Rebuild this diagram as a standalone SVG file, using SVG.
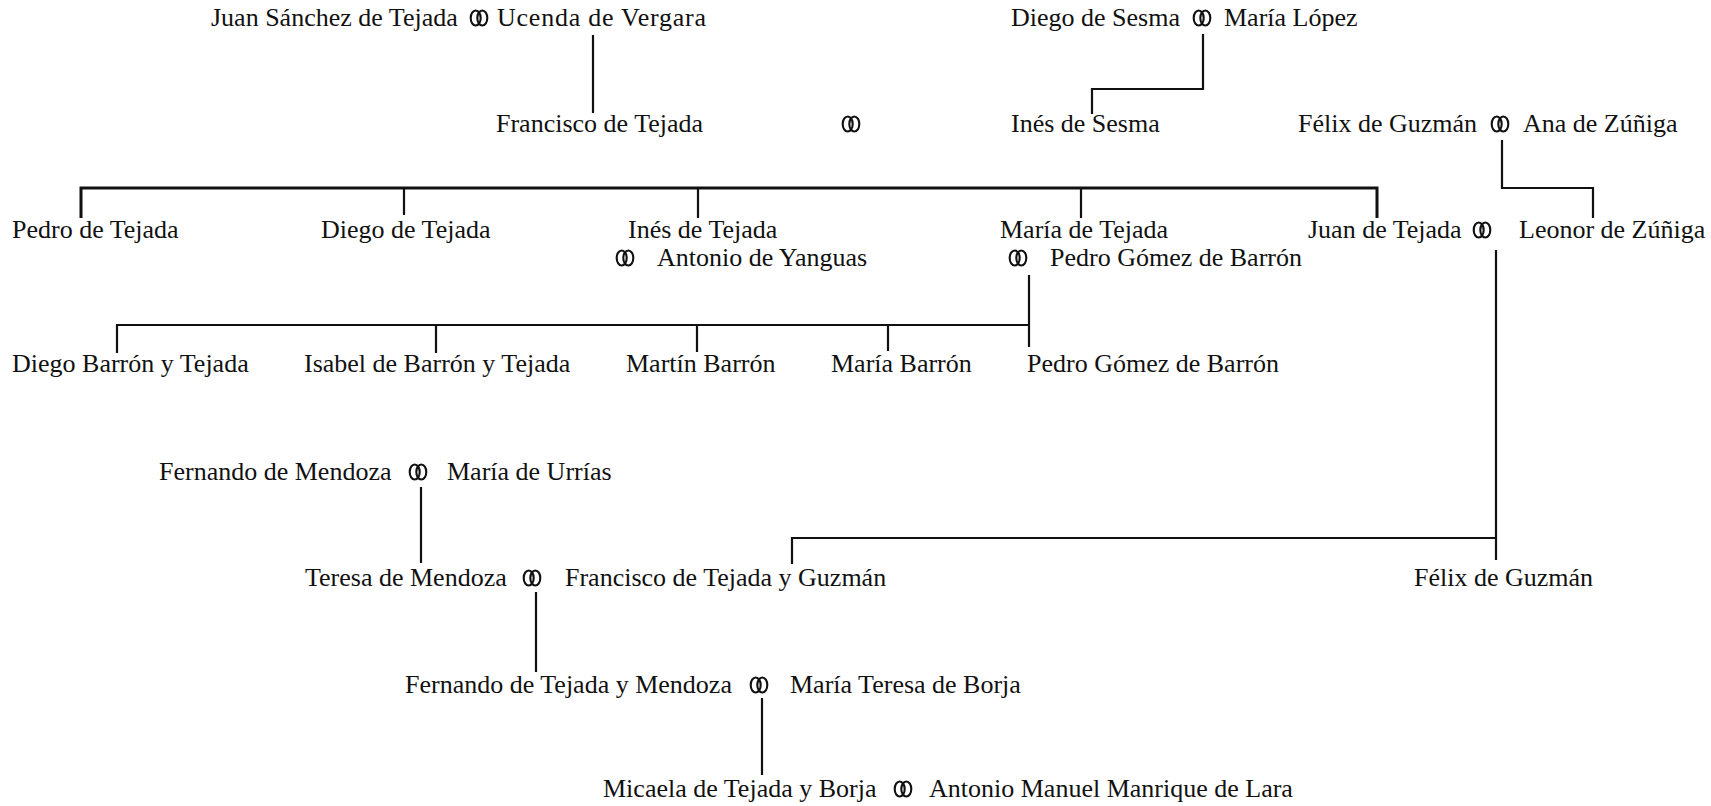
<svg xmlns="http://www.w3.org/2000/svg" width="1711" height="806" viewBox="0 0 1711 806">
<style>
text{font-family:"Liberation Serif","Times New Roman",serif;font-size:26px;fill:#111}
.c{fill:none;stroke:#111;stroke-width:2.2}
.bar{stroke-width:3}
.m ellipse{fill:none;stroke:#111;stroke-width:2.1}
</style>
<defs>
<g id="mar" class="m"><ellipse cx="-3.3" cy="0" rx="5" ry="7.5"/><ellipse cx="3.3" cy="0" rx="5" ry="7.5"/></g>
</defs>
<rect width="1711" height="806" fill="#fff"/>
<g id="connectors">
<path class="c" d="M593,35 V113"/>
<path class="c" d="M1203,34 V89 H1092 V114"/>
<path class="c" d="M1502,140 V188 H1593 V218"/>
<path class="c bar" d="M81,218 V188 H1377 V218"/>
<path class="c" d="M404,188 V215 M698,188 V218 M1081,188 V218"/>
<path class="c" d="M1029,275 V347"/>
<path class="c" d="M117,353 V325 H1029"/>
<path class="c" d="M436,325 V353 M697,325 V352 M888,325 V351"/>
<path class="c" d="M1496,250 V560"/>
<path class="c" d="M1496,538 H792 V564"/>
<path class="c" d="M421,487 V563"/>
<path class="c" d="M536,592 V672"/>
<path class="c" d="M762,698 V775"/>
</g>
<g id="n-juan-sanchez"><text x="211" y="26">Juan Sánchez de Tejada</text><use href="#mar" x="479" y="18"/><text x="497" y="26" textLength="209">Ucenda de Vergara</text></g>
<g id="n-diego-sesma"><text x="1011" y="26">Diego de Sesma</text><use href="#mar" x="1202" y="18"/><text x="1224" y="26">María López</text></g>
<g id="n-francisco"><text x="496" y="132">Francisco de Tejada</text><use href="#mar" x="851" y="124"/><text x="1011" y="132">Inés de Sesma</text></g>
<g id="n-felix-ana"><text x="1298" y="132">Félix de Guzmán</text><use href="#mar" x="1500" y="124"/><text x="1523" y="132">Ana de Zúñiga</text></g>
<g id="n-pedro"><text x="12" y="238">Pedro de Tejada</text></g>
<g id="n-diego"><text x="321" y="238">Diego de Tejada</text></g>
<g id="n-ines"><text x="628" y="238">Inés de Tejada</text><use href="#mar" x="625" y="258"/><text x="657" y="266">Antonio de Yanguas</text></g>
<g id="n-maria"><text x="1000" y="238">María de Tejada</text><use href="#mar" x="1018" y="258"/><text x="1050" y="266">Pedro Gómez de Barrón</text></g>
<g id="n-juan"><text x="1308" y="238">Juan de Tejada</text><use href="#mar" x="1482" y="230"/><text x="1519" y="238">Leonor de Zúñiga</text></g>
<g id="n-diego-barron"><text x="12" y="372">Diego Barrón y Tejada</text></g>
<g id="n-isabel"><text x="304" y="372">Isabel de Barrón y Tejada</text></g>
<g id="n-martin"><text x="626" y="372">Martín Barrón</text></g>
<g id="n-maria-barron"><text x="831" y="372">María Barrón</text></g>
<g id="n-pedro-gomez"><text x="1027" y="372">Pedro Gómez de Barrón</text></g>
<g id="n-fernando-mendoza"><text x="159" y="480">Fernando de Mendoza</text><use href="#mar" x="418" y="472"/><text x="447" y="480">María de Urrías</text></g>
<g id="n-teresa"><text x="305" y="586">Teresa de Mendoza</text><use href="#mar" x="532" y="578"/><text x="565" y="586">Francisco de Tejada y Guzmán</text></g>
<g id="n-felix"><text x="1414" y="586">Félix de Guzmán</text></g>
<g id="n-fernando-tejada"><text x="405" y="693">Fernando de Tejada y Mendoza</text><use href="#mar" x="759" y="685"/><text x="790" y="693">María Teresa de Borja</text></g>
<g id="n-micaela"><text x="603" y="797">Micaela de Tejada y Borja</text><use href="#mar" x="903" y="789"/><text x="929" y="797">Antonio Manuel Manrique de Lara</text></g>
</svg>
